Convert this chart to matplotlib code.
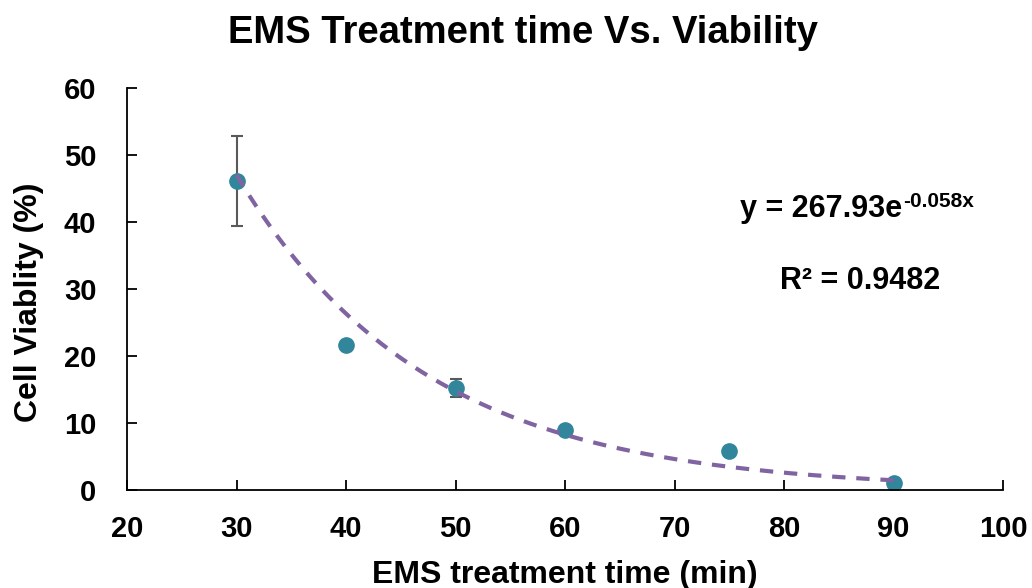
import numpy as np
import matplotlib.pyplot as plt

# data
times = [30, 40, 50, 60, 75, 90]
viability = [46.1, 21.6, 15.2, 8.9, 5.8, 1.0]
errors = [6.7, 0.0, 1.3, 0.0, 0.0, 0.0]
fit_a = 267.93
fit_b = -0.058
x_ticks = [20, 30, 40, 50, 60, 70, 80, 90, 100]
y_ticks = [0, 10, 20, 30, 40, 50, 60]

plt.rcParams['font.family'] = ['Liberation Sans', 'DejaVu Sans']
plt.rcParams['font.weight'] = 'bold'

W, H = 1032, 588
fig = plt.figure(figsize=(W / 100, H / 100), dpi=100)
ax = fig.add_axes([127 / W, 1 - 490 / H, 876 / W, 402 / H])

# exponential trend line
xs = np.linspace(min(times), max(times), 200)
ax.plot(xs, fit_a * np.exp(fit_b * xs), color="#8064A2", lw=3,
        dashes=(3.2, 2.6), zorder=3)

ax.errorbar(times, viability, yerr=errors, fmt="none", ecolor="#595959",
            elinewidth=1.5, capsize=4.5, capthick=1.5, zorder=2)
ax.plot(times, viability, "o", color="#31869B", ms=11, zorder=2.5)

ax.set_xlim(20, 100)
ax.set_ylim(0, 60)
ax.set_xticks(x_ticks)
ax.set_yticks(y_ticks)
ax.tick_params(direction="in", length=7, width=1.3, labelsize=21)
ax.tick_params(axis="x", pad=18)
ax.tick_params(axis="y", pad=22)
for s in ["top", "right"]:
    ax.spines[s].set_visible(False)
for s in ["left", "bottom"]:
    ax.spines[s].set_linewidth(1.3)

fig.text(523 / W, 1 - 33 / H, "EMS Treatment time Vs. Viability",
         fontsize=27.5, fontweight="bold", ha="center", va="center")
ax.set_xlabel("EMS treatment time (min)", fontsize=23, fontweight="bold")
ax.xaxis.set_label_coords(0.5, (490 - 560) / 402)
ax.set_ylabel("Cell Viablity (%)", fontsize=23, fontweight="bold")
ax.yaxis.set_label_coords((44 - 127) / 876, (490 - 302) / 402)

eq = fig.text(740 / W, 1 - 209 / H, "y = 267.93e", fontsize=22,
              fontweight="bold", ha="left", va="center")
ax.annotate("-0.058x", xy=(1, 1), xycoords=eq, xytext=(0.5, 1.5),
            textcoords="offset points", fontsize=15, fontweight="bold",
            ha="left", va="top")
fig.text(860 / W, 1 - 281 / H, "R² = 0.9482", fontsize=22,
         fontweight="bold", ha="center", va="center")

fig.savefig("out.png", dpi=100)
